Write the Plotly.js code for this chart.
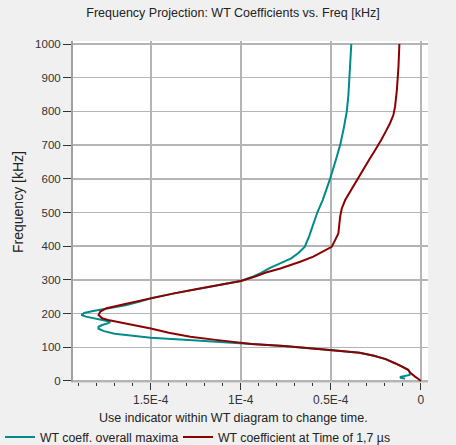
<!DOCTYPE html>
<html>
<head>
<meta charset="utf-8">
<script src="https://cdn.plot.ly/plotly-3.0.1.min.js"></script>
<style>
  html, body { margin: 0; padding: 0; background: #f0f0f0; }
  #chart { width: 456px; height: 445px; }
</style>
</head>
<body>
<div id="chart"></div>
<script>
// Frequency projection of wavelet-transform coefficients.
// x = coefficient magnitude, y = frequency in kHz.

const maxFreq = [7, 9, 12, 14, 18, 25, 33, 42, 52, 65, 75, 84, 92, 97, 104, 110, 113, 117, 122, 128,
  134, 140, 148, 155, 161, 166, 171, 175, 179, 185, 191, 196, 202, 208, 215, 225, 236, 246, 260, 272,
  285, 297, 310, 320, 335, 349, 364, 380, 398, 430, 468, 500, 537, 570, 600, 656, 700, 750, 800, 850,
  900, 950, 1000];
const maxCoeff = [8.7e-6, 1.09e-5, 1.15e-5, 8.7e-6, 6.2e-6, 6.0e-6, 7.0e-6, 1.0e-5, 1.4e-5, 1.95e-5,
  2.6e-5, 3.4e-5, 5.0e-5, 6.0e-5, 7.6e-5, 9.4e-5, 1.02e-4, 1.15e-4, 1.29e-4, 1.50e-4,
  1.62e-4, 1.70e-4, 1.76e-4, 1.79e-4, 1.79e-4, 1.77e-4, 1.74e-4, 1.725e-4, 1.75e-4, 1.81e-4,
  1.86e-4, 1.885e-4, 1.87e-4, 1.82e-4, 1.74e-4, 1.64e-4, 1.56e-4, 1.50e-4, 1.37e-4, 1.25e-4,
  1.12e-4, 1.00e-4, 9.3e-5, 8.9e-5, 8.4e-5, 7.8e-5, 7.2e-5, 6.8e-5, 6.45e-5, 6.2e-5,
  5.97e-5, 5.75e-5, 5.45e-5, 5.22e-5, 5.04e-5, 4.72e-5, 4.48e-5, 4.28e-5, 4.11e-5, 4.02e-5,
  3.97e-5, 3.9e-5, 3.86e-5];

const timeFreq = [0, 3, 6, 13, 18, 25, 33, 42, 52, 65, 75, 84, 92, 97, 104, 110, 115, 122, 131, 143,
  156, 171, 180, 186, 196, 206, 216, 230, 246, 260, 272, 285, 297, 310, 322, 334, 344, 354, 369, 384,
  398, 418, 438, 488, 512, 537, 562, 601, 641, 661, 685, 700, 715, 740, 765, 790, 814, 863, 900, 933,
  1000];
const timeCoeff = [0, 4e-7, 1.3e-6, 3.2e-6, 4.5e-6, 6.0e-6, 7.0e-6, 1.0e-5, 1.4e-5, 1.95e-5,
  2.6e-5, 3.4e-5, 5.0e-5, 6.0e-5, 7.6e-5, 9.4e-5, 1.04e-4, 1.14e-4, 1.28e-4, 1.40e-4,
  1.50e-4, 1.65e-4, 1.73e-4, 1.77e-4, 1.79e-4, 1.78e-4, 1.745e-4, 1.63e-4, 1.50e-4, 1.37e-4,
  1.25e-4, 1.12e-4, 1.00e-4, 9.2e-5, 8.6e-5, 7.8e-5, 7.2e-5, 6.7e-5, 5.97e-5, 5.41e-5,
  4.95e-5, 4.76e-5, 4.58e-5, 4.48e-5, 4.39e-5, 4.2e-5, 3.93e-5, 3.47e-5, 3.05e-5, 2.82e-5,
  2.54e-5, 2.35e-5, 2.2e-5, 1.95e-5, 1.71e-5, 1.52e-5, 1.43e-5, 1.33e-5, 1.28e-5, 1.24e-5,
  1.19e-5];

const xTickVals = [1.5e-4, 1e-4, 0.5e-4, 0];
const xTickText = ['1.5E-4', '1E-4', '0.5E-4', '0'];
const yTickVals = [0, 100, 200, 300, 400, 500, 600, 700, 800, 900, 1000];

const seriesNames = ['WT coeff. overall maxima', 'WT coefficient at Time of 1,7 \u00b5s'];
const seriesColors = ['#008b8b', '#8b0000'];

const xRange = [1.932e-4, -4.0e-6];
const yRange = [-3, 1009];

const FONT = '"Liberation Sans", Arial, sans-serif';

const traces = [
  {
    x: maxCoeff, y: maxFreq, type: 'scatter', mode: 'lines',
    name: seriesNames[0], legend: 'legend',
    line: { color: seriesColors[0], width: 2 }
  },
  {
    x: timeCoeff, y: timeFreq, type: 'scatter', mode: 'lines',
    name: seriesNames[1], legend: 'legend2',
    line: { color: seriesColors[1], width: 2 }
  }
];

function legendAt(px) {
  return {
    orientation: 'h',
    xref: 'container', x: px / 456, xanchor: 'left',
    yref: 'container', y: 1 - 437 / 445, yanchor: 'middle',
    bgcolor: 'rgba(0,0,0,0)',
    font: { family: FONT, size: 12.3, color: '#222222' },
    itemwidth: 30
  };
}

const layout = {
  width: 456, height: 445,
  margin: { l: 73, r: 28, t: 41, b: 63, pad: 0, autoexpand: false },
  paper_bgcolor: '#f0f0f0',
  plot_bgcolor: '#ffffff',
  font: { family: FONT, size: 11.5, color: '#333333' },
  title: {
    text: 'Frequency Projection: WT Coefficients vs. Freq [kHz]',
    font: { family: FONT, size: 12.5, color: '#222222' },
    xref: 'container', x: 0.511, xanchor: 'center',
    yref: 'container', y: 1 - 13 / 445, yanchor: 'middle'
  },
  xaxis: {
    range: xRange,
    tickmode: 'array', tickvals: xTickVals, ticktext: xTickText,
    ticks: 'outside', ticklen: 7, tickwidth: 1, tickcolor: '#333333',
    minor: { tickmode: 'linear', tick0: 0, dtick: 1e-5, ticks: 'outside', ticklen: 3,
             tickwidth: 1, tickcolor: '#333333', showgrid: false },
    showgrid: true, gridcolor: '#b4b4b4', gridwidth: 1.5,
    zeroline: false,
    showline: true, linecolor: '#d6d6d6', linewidth: 1,
    tickfont: { family: FONT, size: 12, color: '#333333' }
  },
  xaxis2: {
    overlaying: 'x', side: 'top', anchor: 'y',
    range: xRange,
    tickmode: 'array', tickvals: xTickVals,
    ticks: 'outside', ticklen: 6, tickwidth: 1, tickcolor: '#333333',
    minor: { tickmode: 'linear', tick0: 0, dtick: 1e-5, ticks: 'outside', ticklen: 4,
             tickwidth: 1, tickcolor: '#333333', showgrid: false },
    showticklabels: false, showgrid: false, zeroline: false,
    showline: true, linecolor: '#a8a8a8', linewidth: 2
  },
  yaxis: {
    range: yRange,
    tickmode: 'array', tickvals: yTickVals,
    ticks: 'outside', ticklen: 8, tickwidth: 1, tickcolor: '#333333',
    showgrid: true, gridcolor: '#b4b4b4', gridwidth: 1.5,
    zeroline: false,
    showline: true, linecolor: '#a0a0a0', linewidth: 2,
    tickfont: { family: FONT, size: 11.5, color: '#333333' }
  },
  yaxis2: {
    overlaying: 'y', side: 'right', anchor: 'x',
    range: yRange,
    tickmode: 'array', tickvals: yTickVals,
    ticks: 'outside', ticklen: 7, tickwidth: 1, tickcolor: '#444444',
    showticklabels: false, showgrid: false, zeroline: false,
    showline: true, linecolor: '#e2e2e2', linewidth: 1
  },
  showlegend: true,
  legend: legendAt(-4),
  legend2: legendAt(178),
  annotations: [
    {
      text: 'Use indicator within WT diagram to change time.',
      xref: 'paper', yref: 'paper',
      x: (233 - 73) / 355, y: -(418 - 382) / 341,
      xanchor: 'center', yanchor: 'middle',
      showarrow: false,
      font: { family: FONT, size: 12.5, color: '#222222' }
    },
    {
      text: 'Frequency [kHz]',
      xref: 'paper', yref: 'paper',
      x: -(73 - 18) / 355, y: (382 - 202) / 341,
      xanchor: 'center', yanchor: 'middle',
      textangle: -90,
      showarrow: false,
      font: { family: FONT, size: 14, color: '#222222' }
    }
  ]
};

Plotly.newPlot('chart', traces, layout, { displayModeBar: false, staticPlot: true });
</script>
</body>
</html>
